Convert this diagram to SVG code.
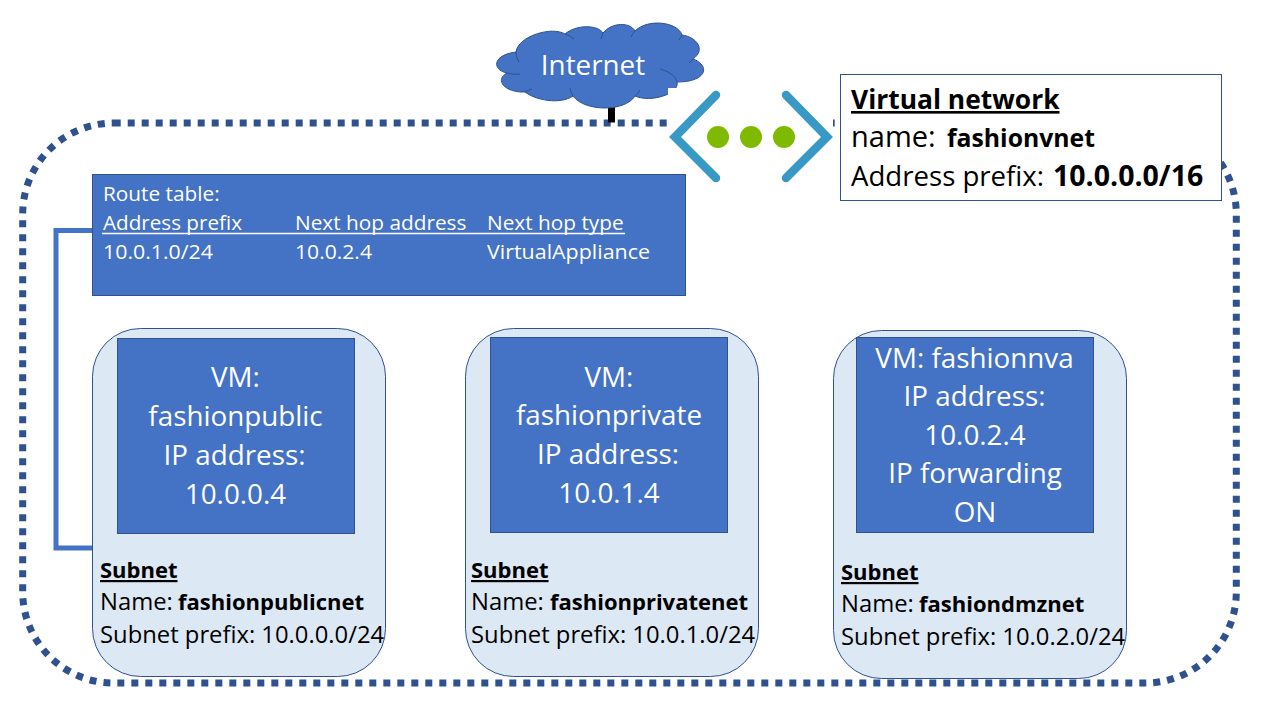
<svg xmlns="http://www.w3.org/2000/svg" width="1280" height="720" viewBox="0 0 1280 720">
<style>
text{font-family:"Open Sans","Noto Sans","Liberation Sans",sans-serif}
.w{fill:#fff}.k{fill:#000}.b{font-weight:700}
.c{text-anchor:middle;font-size:27.800px}
.s{font-size:23.800px}
.sb{font-size:22px;font-weight:700}
.t{font-size:20.800px}
.v{font-size:27.600px}
.box{fill:#4472c4;stroke:#2f528f;stroke-width:1}
.sub{fill:#dde8f5;stroke:#2f528f;stroke-width:1}
.u{text-decoration:underline}
</style>
<rect width="1280" height="720" fill="#fff"/>
<g id="connectors">
<rect x="22.700" y="123" width="1213.600" height="560" rx="91" ry="91" fill="none" stroke="#2f528f" stroke-width="7" stroke-dasharray="7 7"/>
<path d="M92 230.500H56V548H92" fill="none" stroke="#4472c4" stroke-width="5"/>
<path d="M611.500 106V122.500" fill="none" stroke="#000" stroke-width="7"/>
</g>
<g id="internet">
<path d="M516 52C518 36 552 26 565 34C575 25 597 24 603 33C612 22 630 22 635 31C648 18 678 22 682 35C697 37 706 50 693 59C710 65 708 82 677 82C680 94 650 103 635 96C625 112 585 112 573 96C560 105 535 100 525 92C505 93 494 80 507 73C492 70 492 55 516 52Z" class="box"/>
<path d="M516 52Q516 58 519 62M565 34Q571 36 574 39M603 33Q602 36 601 39M635 31Q632 34 631 37M682 35Q681 38 679 40M693 59Q691 61 689 63M660 69Q675 73 677 82M635 96Q639 93 640 90M573 96Q570 91 570 88M525 92Q528 90 532 89M507 73Q514 75 520 74" fill="none" stroke="#2f528f" stroke-width="1"/>
<text x="593" y="75" class="w c">Internet</text>
</g>
<g id="vnet-icon">
<rect x="668" y="88" width="165" height="100" fill="#fff"/>
<path d="M716 95L675 137L716 178M786 95L827 137L786 178" fill="none" stroke="#3999c6" stroke-width="8.500" stroke-linecap="round" stroke-linejoin="miter"/>
<circle cx="718" cy="137" r="11" fill="#7fba00"/><circle cx="751" cy="137" r="11" fill="#7fba00"/><circle cx="784" cy="137" r="11" fill="#7fba00"/>
</g>
<g id="vnet-label">
<rect x="840.500" y="74.500" width="381" height="126" fill="#fff" stroke="#2f528f"/>
<text x="851" y="109" class="v b u" style="font-size:26.400px">Virtual network</text>
<text x="851" y="147" class="v" style="font-size:29px">name:</text>
<text x="947" y="147" class="v b" style="font-size:25.500px" textLength="148" lengthAdjust="spacingAndGlyphs">fashionvnet</text>
<text x="851" y="186" class="v">Address prefix:</text>
<text x="1053" y="186" class="v b" style="font-size:28.500px">10.0.0.0/16</text>
</g>
<g id="route-table">
<rect x="92.500" y="174.500" width="593" height="121" class="box"/>
<text x="103" y="201" class="w t">Route table:</text>
<text x="103" y="230" class="w t" textLength="139" lengthAdjust="spacingAndGlyphs">Address prefix</text>
<text x="295" y="230" class="w t">Next hop address</text>
<text x="487" y="230" class="w t">Next hop type</text>
<path d="M102 233.500H625" stroke="#fff" stroke-width="1.500"/>
<text x="103" y="259" class="w t" textLength="110" lengthAdjust="spacingAndGlyphs">10.0.1.0/24</text>
<text x="295" y="259" class="w t" textLength="77" lengthAdjust="spacingAndGlyphs">10.0.2.4</text>
<text x="487" y="259" class="w t" textLength="163" lengthAdjust="spacingAndGlyphs">VirtualAppliance</text>
</g>
<g id="subnet-public">
<rect x="92.500" y="328.500" width="293" height="348" rx="48" ry="48" class="sub"/>
<rect x="117.500" y="338.500" width="237" height="195" class="box"/>
<text class="w c" x="235.500" y="387">VM:</text>
<text class="w c" x="235.500" y="426">fashionpublic</text>
<text class="w c" x="234.500" y="465">IP address:</text>
<text class="w c" x="235.500" y="504">10.0.0.4</text>
<text x="100" y="578" class="sb u k">Subnet</text>
<text x="100" y="610" class="s k">Name:</text>
<text x="178" y="610" class="sb k">fashionpublicnet</text>
<text x="100" y="643" class="s k">Subnet prefix: 10.0.0.0/24</text>
</g>
<g id="subnet-private">
<rect x="465.500" y="328.500" width="293" height="348" rx="48" ry="48" class="sub"/>
<rect x="490.500" y="337.500" width="237" height="195" class="box"/>
<text class="w c" x="609" y="387">VM:</text>
<text class="w c" x="609" y="425">fashionprivate</text>
<text class="w c" x="608" y="464">IP address:</text>
<text class="w c" x="609" y="503">10.0.1.4</text>
<text x="471" y="578" class="sb u k">Subnet</text>
<text x="471" y="610" class="s k">Name:</text>
<text x="550" y="610" class="sb k">fashionprivatenet</text>
<text x="471" y="643" class="s k">Subnet prefix: 10.0.1.0/24</text>
</g>
<g id="subnet-dmz">
<rect x="833.500" y="330.500" width="293" height="348" rx="48" ry="48" class="sub"/>
<rect x="856.500" y="337.500" width="237" height="195" class="box"/>
<text class="w c" x="974.500" y="368">VM: fashionnva</text>
<text class="w c" x="974.500" y="406">IP address:</text>
<text class="w c" x="975" y="445">10.0.2.4</text>
<text class="w c" x="975" y="483">IP forwarding</text>
<text class="w c" x="975" y="522">ON</text>
<text x="841" y="580" class="sb u k">Subnet</text>
<text x="841" y="612" class="s k">Name:</text>
<text x="919" y="612" class="sb k">fashiondmznet</text>
<text x="841" y="645" class="s k">Subnet prefix: 10.0.2.0/24</text>
</g>
</svg>
